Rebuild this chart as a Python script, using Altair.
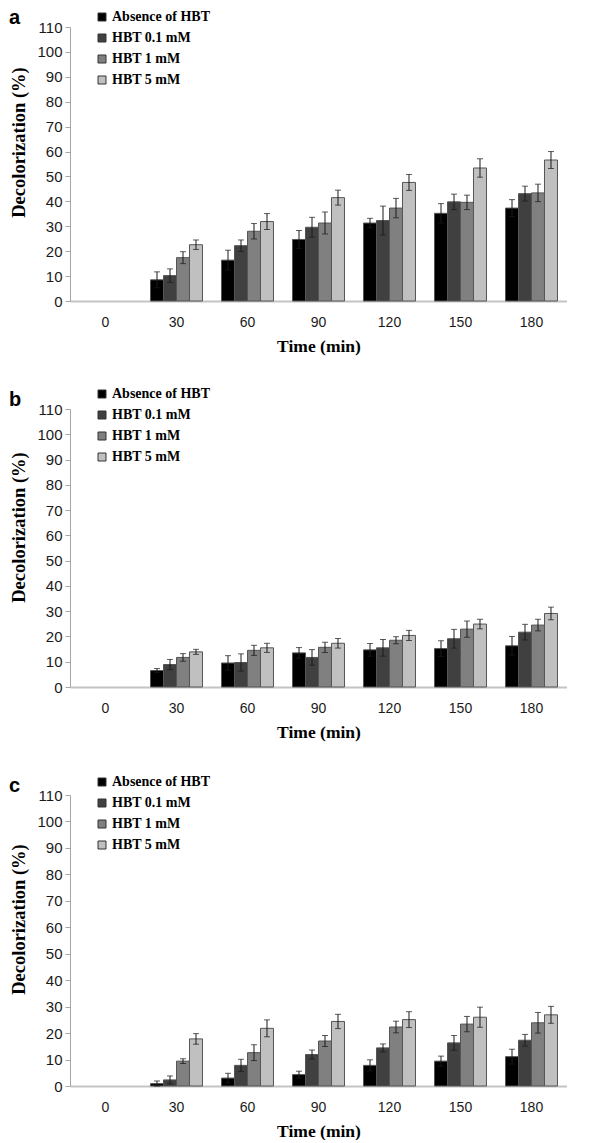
import altair as alt
import pandas as pd

times = ["0", "30", "60", "90", "120", "150", "180"]
series = ["Absence of HBT", "HBT 0.1 mM", "HBT 1 mM", "HBT 5 mM"]
colors = ["#000000", "#404040", "#808080", "#c0c0c0"]

# Panel a
a_abs = [0, 8.5, 16.4, 24.7, 31.3, 35.2, 37.3]
a_01 = [0, 10.2, 22.2, 29.6, 32.3, 39.8, 43.1]
a_1 = [0, 17.4, 28.0, 31.3, 37.3, 39.6, 43.4]
a_5 = [0, 22.6, 31.9, 41.5, 47.6, 53.4, 56.6]
a_abs_err = [0, 3.2, 4.0, 3.6, 1.9, 3.9, 3.4]
a_01_err = [0, 2.7, 2.3, 4.0, 5.8, 3.1, 3.0]
a_1_err = [0, 2.4, 3.1, 4.4, 3.9, 2.9, 3.5]
a_5_err = [0, 1.9, 3.2, 3.0, 3.2, 3.7, 3.4]

# Panel b
b_abs = [0, 6.5, 9.5, 13.5, 14.7, 15.2, 16.3]
b_01 = [0, 8.9, 9.7, 11.7, 15.5, 19.1, 21.7]
b_1 = [0, 11.7, 14.5, 15.7, 18.5, 22.9, 24.5]
b_5 = [0, 13.9, 15.5, 17.3, 20.4, 24.9, 29.1]
b_abs_err = [0, 0.8, 2.9, 2.1, 2.5, 3.1, 3.7]
b_01_err = [0, 2.0, 3.4, 3.1, 3.3, 3.7, 3.1]
b_1_err = [0, 1.5, 2.0, 2.0, 1.4, 3.2, 2.3]
b_5_err = [0, 1.0, 1.8, 1.9, 2.0, 1.9, 2.5]

# Panel c
c_abs = [0, 0.9, 3.0, 4.3, 7.8, 9.4, 11.1]
c_01 = [0, 2.3, 7.8, 11.9, 14.4, 16.3, 17.3]
c_1 = [0, 9.4, 12.6, 17.0, 22.3, 23.4, 23.9]
c_5 = [0, 17.8, 21.8, 24.4, 25.1, 26.0, 26.9]
c_abs_err = [0, 1.0, 1.8, 1.3, 2.1, 1.9, 2.8]
c_01_err = [0, 1.5, 2.3, 1.7, 1.5, 2.8, 2.2]
c_1_err = [0, 0.9, 3.0, 2.1, 2.2, 2.9, 3.9]
c_5_err = [0, 2.0, 3.2, 2.7, 3.0, 3.8, 3.2]

y_ticks = list(range(0, 111, 10))

SANS = "Liberation Sans"
SERIF = "Liberation Serif"


def panel(letter, vals, errs, height, title_y, legend_y):
    rows = []
    for s, v, e in zip(series, vals, errs):
        for t, vi, ei in zip(times, v, e):
            if vi > 0:
                rows.append({"time": t, "series": s, "value": vi,
                             "lo": max(vi - ei, 0), "hi": vi + ei})
    df = pd.DataFrame(rows)

    x_enc = alt.X(
        "time:N", sort=times,
        scale=alt.Scale(domain=times, paddingInner=0.268, paddingOuter=0.134),
        title="Time (min)",
        axis=alt.Axis(labelAngle=0, ticks=False, tickSize=0, domainColor="#c4c4c4",
                      domainWidth=2, labelFont=SANS, labelFontSize=14,
                      labelColor="#1a1a1a", labelPadding=14,
                      titleFont=SERIF, titleFontWeight="bold", titleFontSize=17.5,
                      titleColor="black", titlePadding=8),
    )
    xo_enc = alt.XOffset("series:N", sort=series,
                         scale=alt.Scale(domain=series, paddingInner=0, paddingOuter=0))
    y_scale = alt.Scale(domain=[0, 110], nice=False)
    y_axis = alt.Axis(values=y_ticks, tickCount=12, grid=False, labelOverlap=False,
                      domainColor="#a6a6a6",
                      tickColor="#a6a6a6", tickSize=5, labelPadding=3,
                      labelFont=SANS, labelFontSize=15, labelColor="#1a1a1a",
                      titleFont=SERIF, titleFontWeight="bold", titleFontSize=18.5,
                      titleColor="black", titleX=-52, titleY=title_y,
                      titleBaseline="middle")
    y_title = "Decolorization (%)"

    base = alt.Chart(df).encode(x=x_enc, xOffset=xo_enc)

    bars = base.mark_bar(stroke="#555555", strokeWidth=1).encode(
        y=alt.Y("value:Q", scale=y_scale, title=y_title, axis=y_axis),
        color=alt.Color("series:N", sort=series,
                        scale=alt.Scale(domain=series, range=colors),
                        legend=alt.Legend(orient="none", legendX=25, legendY=legend_y,
                                          title=None, padding=0, labelFont=SERIF,
                                          labelFontWeight="bold", labelFontSize=14,
                                          labelColor="black", symbolType="square",
                                          symbolSize=64, symbolStrokeColor="#333333",
                                          symbolStrokeWidth=1, rowPadding=7,
                                          labelOffset=3)),
    )
    rule = base.mark_rule(color="#1a1a1a", strokeWidth=1).encode(
        y=alt.Y("lo:Q", scale=y_scale, title=y_title, axis=y_axis), y2="hi:Q")
    cap_hi = base.mark_tick(color="#1a1a1a", thickness=1, size=6).encode(
        y=alt.Y("hi:Q", scale=y_scale, title=y_title, axis=y_axis))
    cap_lo = base.mark_tick(color="#1a1a1a", thickness=1, size=6).encode(
        y=alt.Y("lo:Q", scale=y_scale, title=y_title, axis=y_axis))

    label = alt.Chart(pd.DataFrame({"letter": [letter]})).mark_text(
        font=SANS, fontSize=20, fontWeight="bold", color="black",
        align="left", baseline="alphabetic",
    ).encode(x=alt.value(-61), y=alt.value(-3), text="letter:N")

    return alt.layer(bars, rule, cap_hi, cap_lo, label).properties(
        width=497, height=height,
    )


pa = panel("a", [a_abs, a_01, a_1, a_5], [a_abs_err, a_01_err, a_1_err, a_5_err],
           274, 115, -17)
pb = panel("b", [b_abs, b_01, b_1, b_5], [b_abs_err, b_01_err, b_1_err, b_5_err],
           278, 118, -22)
pc = panel("c", [c_abs, c_01, c_1, c_5], [c_abs_err, c_01_err, c_1_err, c_5_err],
           291, 124, -20)

chart = alt.vconcat(pa, pb, pc, spacing=108, bounds="flush").resolve_scale(
    color="independent", y="independent", x="independent"
).resolve_legend(color="independent").properties(padding=0).configure_view(stroke=None)

chart.save("out.html", embed_options={"renderer": "svg", "actions": False})
